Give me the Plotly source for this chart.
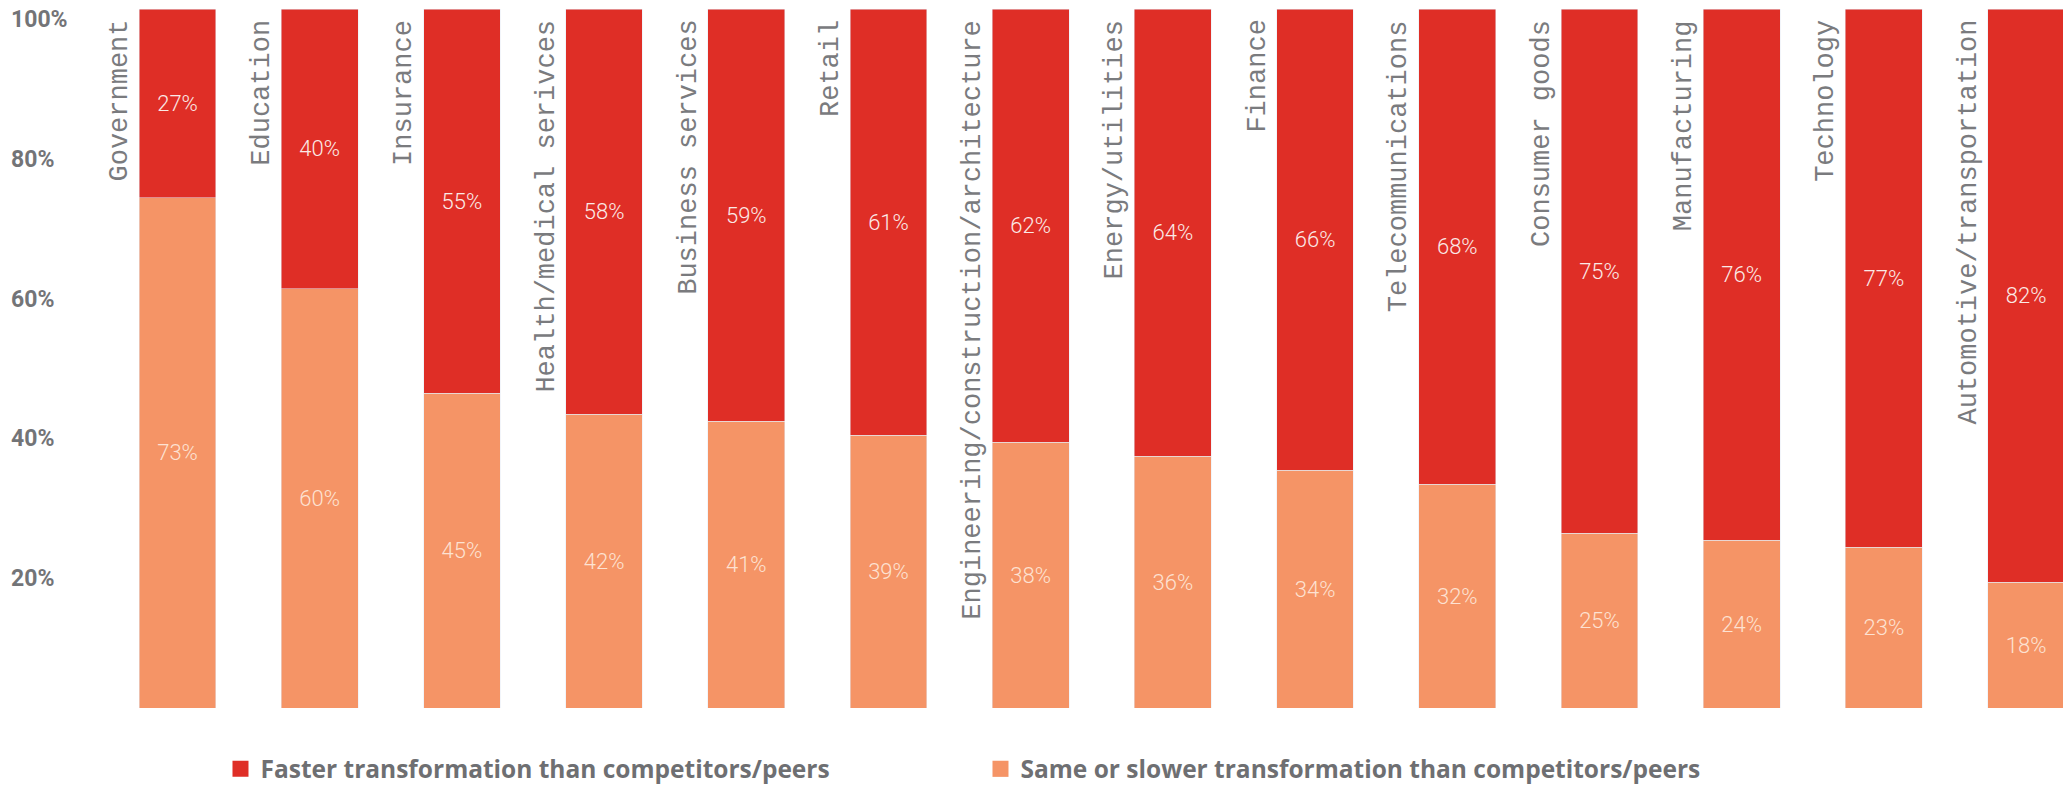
import plotly.graph_objects as go

categories = ["Government", "Education", "Insurance", "Health/medical serivces",
              "Business services", "Retail", "Engineering/construction/architecture",
              "Energy/utilities", "Finance", "Telecommunications", "Consumer goods",
              "Manufacturing", "Technology", "Automotive/transportation"]
faster = [27, 40, 55, 58, 59, 61, 62, 64, 66, 68, 75, 76, 77, 82]
same_or_slower = [73, 60, 45, 42, 41, 39, 38, 36, 34, 32, 25, 24, 23, 18]
tick_values = [20, 40, 60, 80, 100]
tick_labels = ["20%", "40%", "60%", "80%", "100%"]
series_names = ["Faster transformation than competitors/peers",
                "Same or slower transformation than competitors/peers"]

RED = "#DF2E26"
ORANGE = "#F59466"
GRAY = "#737477"

fig = go.Figure()
fig.add_trace(go.Bar(
    x=categories, y=same_or_slower, name=series_names[1], marker_color=ORANGE,
    width=0.54, text=[f"{v}%" for v in same_or_slower], textposition="inside",
    insidetextanchor="middle", constraintext="none",
    textfont=dict(family="Roboto", size=22, color="#FDE2D2", weight=300),
    showlegend=False, hoverinfo="skip"))
fig.add_trace(go.Bar(
    x=categories, y=faster, name=series_names[0], marker_color=RED,
    width=0.54, text=[f"{v}%" for v in faster], textposition="inside",
    insidetextanchor="middle", constraintext="none",
    textfont=dict(family="Roboto", size=22, color="#FBEAE7", weight=300),
    showlegend=False, hoverinfo="skip"))

# legend entries
fig.add_trace(go.Scatter(x=[None], y=[None], mode="markers", name=series_names[0],
                         marker=dict(symbol="square", size=20, color=RED), legendrank=1))
fig.add_trace(go.Scatter(x=[None], y=[None], mode="markers", name=series_names[1],
                         marker=dict(symbol="square", size=20, color=ORANGE), legendrank=2))

for c in categories:
    fig.add_annotation(x=c, y=100, xref="x", yref="y", text=c, textangle=-90,
                       showarrow=False, xanchor="right", yanchor="top",
                       xshift=-41, yshift=-9,
                       font=dict(family="Liberation Mono", size=27, color="#7A7B7E"))

fig.update_layout(
    width=2063, height=779,
    margin=dict(l=0, r=0, t=1, b=79, autoexpand=False),
    plot_bgcolor="white", paper_bgcolor="white",
    barmode="stack",
    xaxis=dict(range=[-1.192, 13.316], showticklabels=False, showgrid=False,
               zeroline=False, showline=False, ticks="", automargin=False),
    yaxis=dict(range=[0, 100], tickvals=tick_values, ticktext=tick_labels,
               side="right", anchor="free", position=0, automargin=False,
               ticklabelposition="outside", ticklabelshift=10, ticklabelstandoff=2,
               ticklabeloverflow="allow",
               showgrid=False, zeroline=False, showline=False, ticks="",
               tickfont=dict(family="Roboto", size=23, color=GRAY, weight="bold")),
    legend=dict(orientation="h", x=0.103, xanchor="left", y=-0.055, yanchor="top",
                itemsizing="trace", entrywidth=715, entrywidthmode="pixels",
                font=dict(family="Open Sans", size=24.5, color="#6E6F72", weight="bold"),
                traceorder="normal"),
    showlegend=True,
)

fig.write_html("out.html")
